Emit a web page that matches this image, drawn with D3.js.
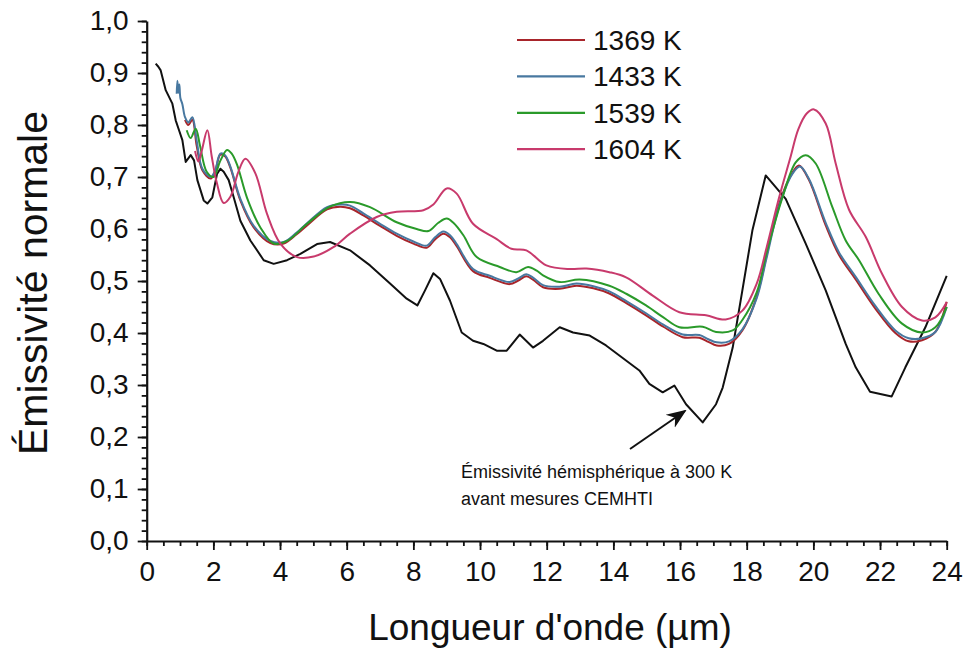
<!DOCTYPE html>
<html>
<head>
<meta charset="utf-8">
<script src="https://cdn.jsdelivr.net/npm/d3@7"></script>
<style>
  body { margin: 0; background: #fff; }
  text { font-family: "Liberation Sans", Arial, sans-serif; fill: #111; }
</style>
</head>
<body>
<svg id="chart" width="971" height="650"></svg>
<script>
// wavelength (µm), emissivity
var curve300 = [[0.27,0.918],[0.35,0.912],[0.42,0.905],[0.57,0.867],[0.77,0.841],[0.87,0.809],[0.97,0.79],[1.07,0.771],[1.17,0.729],[1.32,0.742],[1.42,0.732],[1.52,0.694],[1.71,0.655],[1.82,0.649],[1.97,0.661],[2.11,0.706],[2.21,0.716],[2.31,0.71],[2.46,0.694],[2.61,0.661],[2.81,0.616],[3.11,0.578],[3.51,0.54],[3.81,0.533],[4.21,0.54],[4.61,0.552],[5.11,0.571],[5.5,0.575],[6.1,0.559],[6.7,0.53],[7.3,0.495],[7.8,0.466],[8.12,0.453],[8.35,0.482],[8.6,0.515],[8.8,0.504],[9.1,0.462],[9.45,0.401],[9.79,0.385],[10.1,0.379],[10.5,0.366],[10.8,0.366],[11.19,0.397],[11.59,0.372],[11.89,0.385],[12.39,0.411],[12.79,0.401],[13.29,0.395],[13.78,0.376],[14.38,0.347],[14.78,0.328],[15.08,0.302],[15.48,0.286],[15.83,0.299],[16.18,0.263],[16.68,0.228],[17.08,0.263],[17.28,0.295],[17.58,0.372],[17.87,0.482],[18.17,0.597],[18.57,0.703],[19.17,0.658],[19.77,0.572],[20.37,0.482],[20.97,0.379],[21.27,0.334],[21.7,0.287],[22.35,0.278],[22.76,0.334],[23.36,0.411],[24.0,0.51]];

var k1369 = [[1.15,0.81],[1.25,0.8],[1.37,0.81],[1.5,0.76],[1.67,0.713],[1.92,0.697],[2.05,0.71],[2.21,0.743],[2.35,0.74],[2.51,0.718],[2.81,0.655],[3.21,0.603],[3.71,0.573],[4.11,0.572],[4.5,0.59],[4.81,0.607],[5.41,0.638],[5.8,0.643],[6.1,0.64],[6.5,0.626],[7.0,0.606],[7.5,0.587],[8.0,0.572],[8.4,0.564],[8.65,0.58],[8.9,0.591],[9.1,0.584],[9.3,0.567],[9.79,0.519],[10.29,0.506],[10.89,0.494],[11.15,0.501],[11.39,0.509],[11.6,0.502],[11.89,0.488],[12.39,0.485],[12.89,0.491],[13.4,0.486],[13.88,0.476],[14.4,0.457],[14.98,0.434],[15.5,0.412],[16.08,0.392],[16.58,0.391],[16.85,0.383],[17.1,0.376],[17.47,0.379],[17.87,0.405],[18.3,0.47],[18.6,0.55],[18.97,0.648],[19.37,0.708],[19.57,0.722],[19.87,0.694],[20.37,0.607],[20.77,0.55],[21.27,0.503],[21.86,0.447],[22.46,0.4],[22.86,0.384],[23.26,0.386],[23.66,0.402],[24.0,0.46]];

var k1433 = [[0.9,0.86],[0.92,0.885],[0.95,0.862],[0.98,0.878],[1.01,0.852],[1.07,0.84],[1.15,0.815],[1.25,0.805],[1.37,0.815],[1.5,0.77],[1.67,0.716],[1.92,0.7],[2.05,0.712],[2.21,0.745],[2.35,0.742],[2.51,0.72],[2.81,0.658],[3.21,0.606],[3.71,0.577],[4.11,0.575],[4.5,0.593],[4.81,0.611],[5.41,0.642],[5.8,0.647],[6.1,0.645],[6.5,0.63],[7.0,0.61],[7.5,0.591],[8.0,0.576],[8.4,0.568],[8.65,0.584],[8.9,0.595],[9.1,0.588],[9.3,0.571],[9.79,0.523],[10.29,0.51],[10.89,0.498],[11.15,0.505],[11.39,0.513],[11.6,0.506],[11.89,0.492],[12.39,0.489],[12.89,0.495],[13.4,0.49],[13.88,0.48],[14.4,0.461],[14.98,0.438],[15.5,0.416],[16.08,0.397],[16.58,0.396],[16.85,0.388],[17.1,0.382],[17.47,0.384],[17.87,0.407],[18.3,0.467],[18.6,0.545],[18.97,0.643],[19.37,0.706],[19.6,0.72],[19.87,0.696],[20.37,0.612],[20.77,0.555],[21.27,0.508],[21.86,0.452],[22.46,0.405],[22.86,0.39],[23.26,0.39],[23.66,0.402],[24.0,0.45]];

var k1539 = [[1.2,0.79],[1.32,0.775],[1.47,0.793],[1.6,0.76],[1.8,0.71],[2.01,0.7],[2.2,0.73],[2.41,0.752],[2.55,0.745],[2.71,0.724],[3.01,0.66],[3.41,0.603],[3.81,0.572],[4.21,0.577],[4.81,0.61],[5.5,0.643],[6.1,0.652],[6.7,0.642],[7.5,0.613],[8.1,0.6],[8.45,0.596],[8.75,0.612],[9.0,0.62],[9.2,0.612],[9.5,0.588],[9.9,0.546],[10.59,0.527],[11.09,0.517],[11.44,0.527],[11.7,0.52],[11.89,0.511],[12.39,0.498],[12.99,0.503],[13.88,0.491],[14.4,0.475],[14.98,0.453],[15.5,0.43],[15.98,0.411],[16.68,0.412],[17.08,0.402],[17.58,0.405],[17.87,0.425],[18.3,0.478],[18.6,0.555],[19.07,0.66],[19.47,0.728],[19.77,0.742],[20.07,0.726],[20.57,0.642],[20.97,0.578],[21.37,0.54],[21.96,0.475],[22.66,0.418],[23.26,0.401],[23.66,0.411],[24.0,0.45]];

var k1604 = [[1.45,0.75],[1.55,0.73],[1.65,0.75],[1.82,0.79],[1.95,0.74],[2.1,0.69],[2.31,0.65],[2.51,0.662],[2.75,0.71],[2.96,0.735],[3.26,0.707],[3.61,0.629],[4.01,0.572],[4.51,0.546],[5.01,0.547],[5.6,0.565],[6.1,0.591],[6.9,0.623],[7.5,0.633],[8.3,0.636],[8.6,0.647],[9.0,0.678],[9.3,0.668],[9.79,0.61],[10.49,0.581],[10.94,0.562],[11.39,0.559],[11.99,0.53],[12.69,0.523],[13.19,0.524],[13.88,0.517],[14.38,0.507],[15.18,0.472],[15.98,0.44],[16.78,0.434],[17.37,0.426],[17.87,0.443],[18.3,0.495],[18.6,0.565],[18.97,0.66],[19.3,0.735],[19.55,0.792],[19.8,0.822],[20.02,0.83],[20.37,0.803],[20.67,0.726],[21.07,0.637],[21.57,0.585],[22.06,0.514],[22.66,0.45],[23.26,0.424],[23.66,0.43],[24.0,0.459]];

var seriesNames = ["1369 K", "1433 K", "1539 K", "1604 K"];
var seriesColors = ["#a8252b", "#4878a0", "#2a9a2a", "#c83a6c"];
var xTicks = d3.range(0, 25, 2);
var yTicks = d3.range(0, 1.01, 0.1);
var xTitle = "Longueur d'onde (µm)";
var yTitle = "Émissivité normale";
var noteLines = ["Émissivité hémisphérique à 300 K", "avant mesures CEMHTI"];

var svg = d3.select("#chart");
svg.append("rect").attr("width", 971).attr("height", 650).attr("fill", "#fff");

var x = d3.scaleLinear().domain([0, 24]).range([146.7, 946.7]);
var y = d3.scaleLinear().domain([0, 1]).range([541, 21]);
var fmt = d => d3.format(".1f")(d).replace(".", ",");

// minor ticks first, majors drawn over them
svg.append("g")
    .attr("transform", "translate(0,541)")
    .call(d3.axisBottom(x).tickValues(d3.range(0, 24.01, 0.5)).tickSize(5).tickFormat(""))
    .call(g => g.select(".domain").remove());
svg.append("g")
    .attr("transform", "translate(146.7,0)")
    .call(d3.axisLeft(y).tickValues(d3.range(0, 1.001, 0.02)).tickSize(5).tickFormat(""))
    .call(g => g.select(".domain").remove());

var xAxis = svg.append("g")
    .attr("transform", "translate(0,541)")
    .call(d3.axisBottom(x).tickValues(xTicks).tickSize(9).tickPadding(11).tickSizeOuter(0));
var yAxis = svg.append("g")
    .attr("transform", "translate(146.7,0)")
    .call(d3.axisLeft(y).tickValues(yTicks).tickSize(9).tickPadding(9).tickFormat(fmt).tickSizeOuter(0));

svg.selectAll(".tick line").attr("stroke", "#111").attr("stroke-width", 1.8);
svg.selectAll(".domain").attr("stroke", "#111").attr("stroke-width", 2.2);
xAxis.selectAll("text").attr("font-size", 28);
yAxis.selectAll("text").attr("font-size", 28);
svg.selectAll(".tick text").attr("fill", "#111").style("font-family", "'Liberation Sans', Arial, sans-serif");

svg.append("text")
    .attr("x", 550).attr("y", 640)
    .attr("text-anchor", "middle")
    .attr("font-size", 37)
    .text(xTitle);
svg.append("text")
    .attr("transform", "translate(47,283) rotate(-90)")
    .attr("text-anchor", "middle")
    .attr("font-size", 41)
    .text(yTitle);

var smooth = d3.line().x(d => x(d[0])).y(d => y(d[1])).curve(d3.curveCatmullRom.alpha(0.5));
var straight = d3.line().x(d => x(d[0])).y(d => y(d[1]));

var series = [k1369, k1433, k1539, k1604];

svg.append("path")
    .attr("d", straight(curve300))
    .attr("fill", "none")
    .attr("stroke", "#111")
    .attr("stroke-width", 2)
    .attr("stroke-linejoin", "round");

svg.append("g").selectAll("path")
    .data(series)
    .join("path")
    .attr("d", d => smooth(d))
    .attr("fill", "none")
    .attr("stroke", (d, i) => seriesColors[i])
    .attr("stroke-width", 2)
    .attr("stroke-linejoin", "round");

var legend = svg.append("g").selectAll("g")
    .data(seriesNames)
    .join("g")
    .attr("transform", (d, i) => "translate(517," + (40 + i * 36.4) + ")");
legend.append("line")
    .attr("x2", 68)
    .attr("stroke", (d, i) => seriesColors[i])
    .attr("stroke-width", 2.2);
legend.append("text")
    .attr("x", 76).attr("dy", "0.36em")
    .attr("font-size", 28)
    .text(d => d);

// annotation for the 300 K curve
svg.append("defs").append("marker")
    .attr("id", "head")
    .attr("viewBox", "0 0 10 10")
    .attr("refX", 9).attr("refY", 5)
    .attr("markerWidth", 10).attr("markerHeight", 10)
    .attr("orient", "auto")
    .append("path")
    .attr("d", "M0,1 L10,5 L0,9 L3,5 Z")
    .attr("fill", "#111");
svg.append("line")
    .attr("x1", 630).attr("y1", 449)
    .attr("x2", 685).attr("y2", 411)
    .attr("stroke", "#111")
    .attr("stroke-width", 2)
    .attr("marker-end", "url(#head)");
svg.append("g").selectAll("text")
    .data(noteLines)
    .join("text")
    .attr("x", 461)
    .attr("y", (d, i) => 478 + i * 27)
    .attr("font-size", 18)
    .text(d => d);
</script>
</body>
</html>
